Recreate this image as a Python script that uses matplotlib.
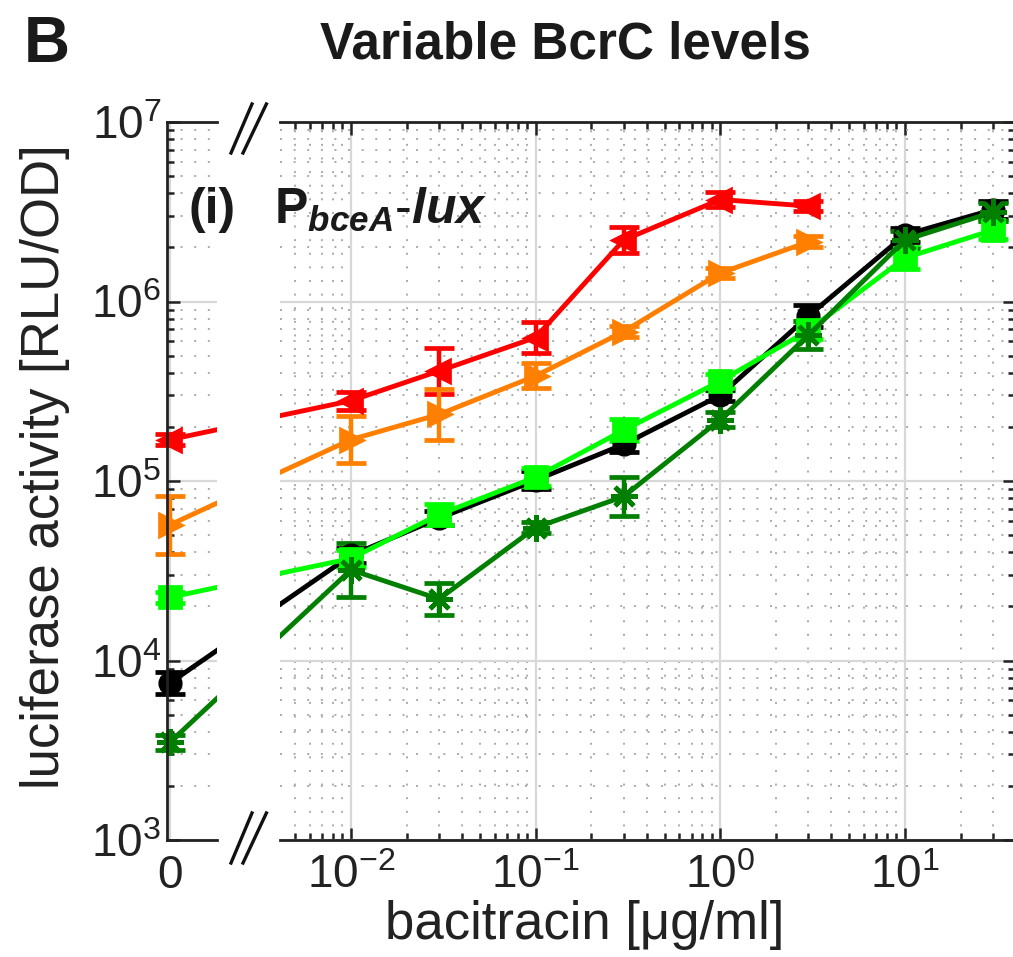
import numpy as np
import matplotlib as mpl
mpl.use('Agg')
import matplotlib.pyplot as plt
from matplotlib.lines import Line2D
from matplotlib.ticker import LogLocator, NullLocator, NullFormatter

plt.rcParams['font.family'] = ['Liberation Sans', 'DejaVu Sans']
plt.rcParams['mathtext.fontset'] = 'custom'
plt.rcParams['mathtext.rm'] = 'Liberation Sans'
plt.rcParams['mathtext.it'] = 'Liberation Sans:italic'
plt.rcParams['mathtext.bf'] = 'Liberation Sans:bold'
plt.rcParams['mathtext.bfit'] = 'Liberation Sans:bold:italic'

# bacitracin concentrations (ug/ml); 0 is drawn at 1e-3 on the broken axis
conc = [0, 0.01, 0.03, 0.1, 0.3, 1, 3, 10, 30]
zero_pos = 1e-3

# luciferase activity (RLU/OD) and error half-widths (decades)
red_vals = [1.7e5, 2.8e5, 4.1e5, 6.3e5, 2.2e6, 3.7e6, 3.4e6]
red_err = [0.03, 0.05, 0.13, 0.086, 0.07, 0.04, 0.03]
orange_vals = [5.7e4, 1.7e5, 2.35e5, 3.85e5, 6.8e5, 1.44e6, 2.15e6]
orange_err = [0.16, 0.13, 0.14, 0.07, 0.03, 0.03, 0.03]
black_vals = [7.5e3, 3.85e4, 6.2e4, 1.01e5, 1.6e5, 3.0e5, 8.3e5, 2.35e6, 3.25e6]
black_err = [0.06, 0.04, 0.04, 0.05, 0.04, 0.03, 0.06, 0.04, 0.05]
lgreen_vals = [2.25e4, 3.7e4, 6.5e4, 1.05e5, 1.92e5, 3.6e5, 6.9e5, 1.75e6, 2.5e6]
lgreen_err = [0.03, 0.05, 0.06, 0.05, 0.06, 0.04, 0.05, 0.06, 0.05]
dgreen_vals = [3.5e3, 3.2e4, 2.2e4, 5.5e4, 8.2e4, 2.2e5, 6.5e5, 2.2e6, 3.15e6]
dgreen_err = [0.04, 0.15, 0.09, 0.03, 0.11, 0.04, 0.08, 0.05, 0.05]

asterisk = (8, 2, 0)
series = [
    (red_vals, red_err, '#ff0000', '<'),
    (orange_vals, orange_err, '#ff8000', '>'),
    (black_vals, black_err, '#000000', 'o'),
    (lgreen_vals, lgreen_err, '#00ff00', 's'),
    (dgreen_vals, dgreen_err, '#007f00', asterisk),
]

W, H = 1013, 957
fig = plt.figure(figsize=(W / 100, H / 100), dpi=100)
axL = fig.add_axes([167 / W, 117 / H, 50 / W, 718 / H])
axR = fig.add_axes([280 / W, 117 / H, 735 / W, 718 / H])

xs = [zero_pos] + conc[1:]
style = dict(lw=3.5, elinewidth=3.2, capsize=11, capthick=3.2)
for vals, err, col, mk in series:
    v = np.array(vals)
    e = np.array(err)
    x = np.array(xs[:len(v)])
    yerr = np.array([v * (1 - 10 ** -e), v * (10 ** e - 1)])
    msize = 19 if mk == asterisk else 14
    # right panel: all points
    axR.errorbar(x, v, yerr=yerr, color=col, marker=mk, ms=msize, mew=3.4, **style)
    # left panel: connecting line clipped, zero point unclipped
    axL.plot(x, v, color=col, lw=3.5)
    eb = axL.errorbar(x[:1], v[:1], yerr=yerr[:, :1], color=col, marker=mk,
                      ms=msize, mew=3.4, **style)
    for art in eb.get_children():
        art.set_clip_on(False)

for ax in (axL, axR):
    ax.set_xscale('log')
    ax.set_yscale('log')
    ax.set_ylim(1e3, 1e7)
    ax.grid(True, which='major', color='#d8d8d8', lw=1.6, ls='-')
    ax.set_axisbelow(True)
    ax.yaxis.set_minor_locator(LogLocator(base=10, subs=np.arange(2, 10)))
    ax.yaxis.set_minor_formatter(NullFormatter())
    ax.tick_params(which='both', direction='in', width=1.8, labelsize=33,
                   colors='#222222')
    ax.tick_params(which='major', length=9)
    ax.tick_params(which='minor', length=5)

# left panel: the zero concentration
axL.set_xlim(10 ** -3.016, 10 ** -2.745)
axL.set_xticks([zero_pos])
axL.set_xticklabels(['0'])
axL.xaxis.set_minor_locator(NullLocator())
axL.tick_params(axis='x', length=0, pad=10)
axL.tick_params(axis='y', pad=4)
axL.spines['right'].set_visible(False)
axL.grid(True, which='minor', axis='y', color='#aaaaaa', lw=1.4, ls=(0, (1, 6)))
axL.yaxis.set_ticks([1e3, 1e4, 1e5, 1e6, 1e7])

# right panel: log concentrations
axR.set_xlim(10 ** -2.384, 10 ** 1.596)
axR.xaxis.set_minor_locator(LogLocator(base=10, subs=np.arange(2, 10)))
axR.xaxis.set_minor_formatter(NullFormatter())
axR.spines['left'].set_visible(False)
axR.tick_params(axis='y', which='both', left=False, labelleft=False, right=True)
axR.tick_params(axis='x', which='both', top=True, pad=10)
axR.set_xticks([1e-2, 1e-1, 1e0, 1e1])
axR.grid(True, which='minor', color='#aaaaaa', lw=1.4, ls=(0, (1, 6)))

for ax in (axL, axR):
    for s in ax.spines.values():
        s.set_linewidth(2)
        s.set_color('#222222')

# axis break marks
for y0, y1 in [(153, 104), (863, 813)]:
    for dx in (0, 12):
        fig.add_artist(Line2D([(231 + dx) / W, (252 + dx * 1.2) / W],
                              [1 - y0 / H, 1 - y1 / H], color='#111111',
                              lw=2.4, transform=fig.transFigure))

fig.text(24 / W, 1 - 45 / H, 'B', fontsize=46, fontweight='bold',
         ha='left', va='center', color='#1a1a1a')
fig.text(565 / W, 1 - 45 / H, 'Variable BcrC levels', fontsize=37,
         fontweight='bold', ha='center', va='center', color='#1a1a1a')
fig.text(45 / W, 1 - 467 / H, 'luciferase activity [RLU/OD]', fontsize=38,
         rotation=90, ha='center', va='center', color='#222222')
fig.text(585 / W, 1 - 925 / H, 'bacitracin [μg/ml]', fontsize=38,
         ha='center', va='center', color='#222222')
fig.text(188 / W, 1 - 210 / H, '(i)', fontsize=36, fontweight='bold',
         ha='left', va='center', color='#1a1a1a')
fig.text(274 / W, 1 - 210 / H, r'$\mathbf{P}_{\mathbfit{bceA}}\mathbfit{\text{-}lux}$',
         fontsize=36, ha='left', va='center', color='#1a1a1a')

plt.savefig('out.png', dpi=100)
